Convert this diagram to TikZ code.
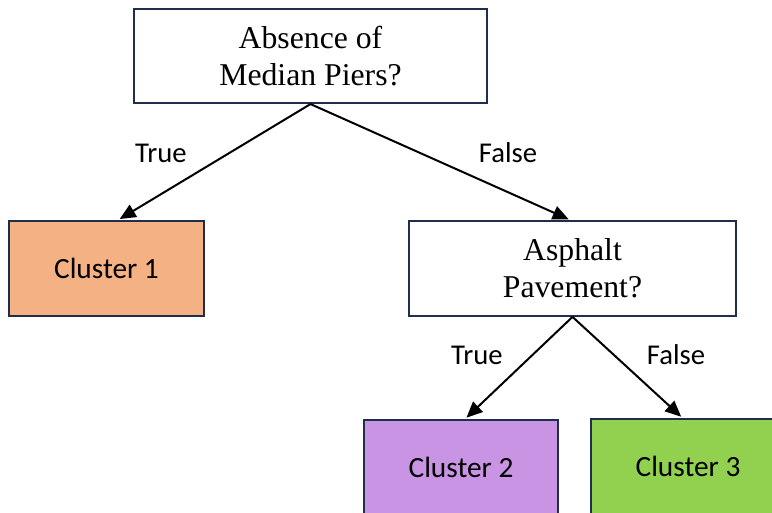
\documentclass[tikz,border=0pt]{standalone}
\usepackage{fontspec}
\setmainfont{Liberation Serif}
\setsansfont{Carlito}
\usetikzlibrary{arrows.meta}

\definecolor{BoxLine}{HTML}{1F2E4F}
\definecolor{OrangeFill}{HTML}{F4B183}
\definecolor{PurpleFill}{HTML}{C894E3}
\definecolor{GreenFill}{HTML}{92D050}

\tikzset{
  QuestionStyle/.style={draw=BoxLine, line width=1.6pt, fill=white, inner sep=0pt,
    align=center, font=\fontsize{23.8}{27.6}\selectfont},
  ClusterStyle/.style={draw=BoxLine, line width=1.6pt, inner sep=0pt,
    minimum width=146pt, minimum height=71pt, font=\sffamily\fontsize{22}{26}\selectfont},
  EdgeStyle/.style={line width=1.5pt, -{Triangle[length=12pt,width=10.5pt]}, shorten >=1.5pt},
  LabelStyle/.style={font=\sffamily\fontsize{21.5}{26}\selectfont}
}

\begin{document}
\begin{tikzpicture}[x=0.75pt, y=0.75pt]
  \clip (0,0) rectangle (772,512);
  \fill[white] (0,0) rectangle (772,512);

  % questions
  \node[QuestionStyle, minimum width=265pt, minimum height=70.5pt] (piers) at (310.5,456) {Absence of\\Median Piers?};
  \node[QuestionStyle, minimum width=245pt, minimum height=71pt] (asphalt) at (572.5,243.5) {Asphalt\\Pavement?};

  % leaves
  \node[ClusterStyle, fill=OrangeFill] (cl1) at (106.5,243.5) {Cluster 1};
  \node[ClusterStyle, fill=PurpleFill] (cl2) at (461,44.5) {Cluster 2};
  \node[ClusterStyle, fill=GreenFill] (cl3) at (688,45.5) {Cluster 3};

  % branches
  \draw[EdgeStyle] (piers.south) -- ([xshift=8.6pt]cl1.north);
  \draw[EdgeStyle] (piers.south) -- ([xshift=-1.5pt]asphalt.north);
  \draw[EdgeStyle] (asphalt.south) -- ([xshift=3pt]cl2.north);
  \draw[EdgeStyle] (asphalt.south) -- ([xshift=-4pt]cl3.north);

  \node[LabelStyle] (t1) at (161,359) {True};
  \node[LabelStyle] (f1) at (508,359) {False};
  \node[LabelStyle] (t2) at (477,157) {True};
  \node[LabelStyle] (f2) at (676,157) {False};
\end{tikzpicture}
\end{document}
